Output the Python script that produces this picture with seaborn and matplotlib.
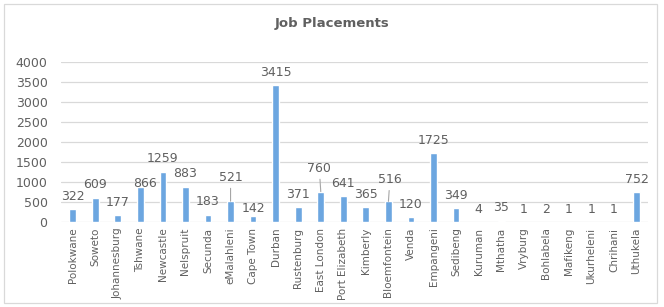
import matplotlib
matplotlib.use("Agg")
import matplotlib.pyplot as plt
import seaborn as sns
import pandas as pd
from matplotlib.patches import Rectangle

categories = ["Polokwane", "Soweto", "Johannesburg", "Tshwane", "Newcastle", "Nelspruit",
              "Secunda", "eMalahleni", "Cape Town", "Durban", "Rustenburg", "East London",
              "Port Elizabeth", "Kimberly", "Bloemfontein", "Venda", "Empangeni", "Sedibeng",
              "Kuruman", "Mthatha", "Vryburg", "Bohlabela", "Mafikeng", "Ukurheleni",
              "Chrihani", "Uthukela"]
values = [322, 609, 177, 866, 1259, 883, 183, 521, 142, 3415, 371, 760, 641, 365, 516,
          120, 1725, 349, 4, 35, 1, 2, 1, 1, 1, 752]
title = "Job Placements"
y_ticks = [0, 500, 1000, 1500, 2000, 2500, 3000, 3500, 4000]

sns.set_theme(style="white")
plt.rcParams["font.family"] = ["DejaVu Sans"]

grey = "#606060"
bar_color = "#6CA6E0"

df = pd.DataFrame({"city": categories, "placements": values})

fig = plt.figure(figsize=(6.64, 3.07), dpi=100)
fig.patch.set_facecolor("white")
ax = fig.add_axes([61.4 / 664, 85 / 307, (647.8 - 61.4) / 664, 160 / 307])

sns.barplot(data=df, x="city", y="placements", color=bar_color, width=0.3,
            saturation=1, ax=ax, zorder=3)

ax.set_xlim(-0.5, len(categories) - 0.5)
ax.set_ylim(0, 4000)
ax.set_yticks(y_ticks)
ax.set_yticklabels([str(t) for t in y_ticks])
ax.set_xlabel("")
ax.set_ylabel("")
for s in ax.spines.values():
    s.set_visible(False)
ax.yaxis.grid(True, color="#d9d9d9", linewidth=0.9, zorder=0)
ax.xaxis.grid(False)
ax.set_axisbelow(True)
ax.tick_params(axis="y", length=0, pad=10, labelsize=9, labelcolor=grey)
ax.tick_params(axis="x", length=0, pad=4, labelsize=7.5, labelcolor=grey)
plt.setp(ax.get_xticklabels(), rotation=90, ha="center", va="top")

# data labels (offsets in pixels: dx, dy, leader line)
special = {
    "Tshwane": (5, 4, False),
    "Cape Town": (0, 8, False),
    "eMalahleni": (0, 24, True),
    "East London": (-1.5, 23.5, True),
    "Bloemfontein": (1.5, 22, True),
}
for i, (c, v) in enumerate(zip(categories, values)):
    dx, dy, line = special.get(c, (0, 12.7, False))
    kw = {}
    if line:
        kw["arrowprops"] = dict(arrowstyle="-", color="#a6a6a6", lw=0.8,
                                shrinkA=1, shrinkB=0)
    ax.annotate(str(v), xy=(i, v), xytext=(dx, dy), textcoords="offset pixels",
                ha="center", va="center", fontsize=9, color=grey, zorder=4, **kw)

fig.text(0.5, 1 - 23 / 307, title, ha="center", va="center", fontsize=9.5,
         fontweight="bold", color=grey)

fig.patches.append(Rectangle((4 / 664, 4 / 307), 653 / 664, 299 / 307,
                             transform=fig.transFigure, fill=False,
                             edgecolor="#d9d9d9", linewidth=0.9))

fig.savefig("out.png", dpi=100, facecolor="white")
